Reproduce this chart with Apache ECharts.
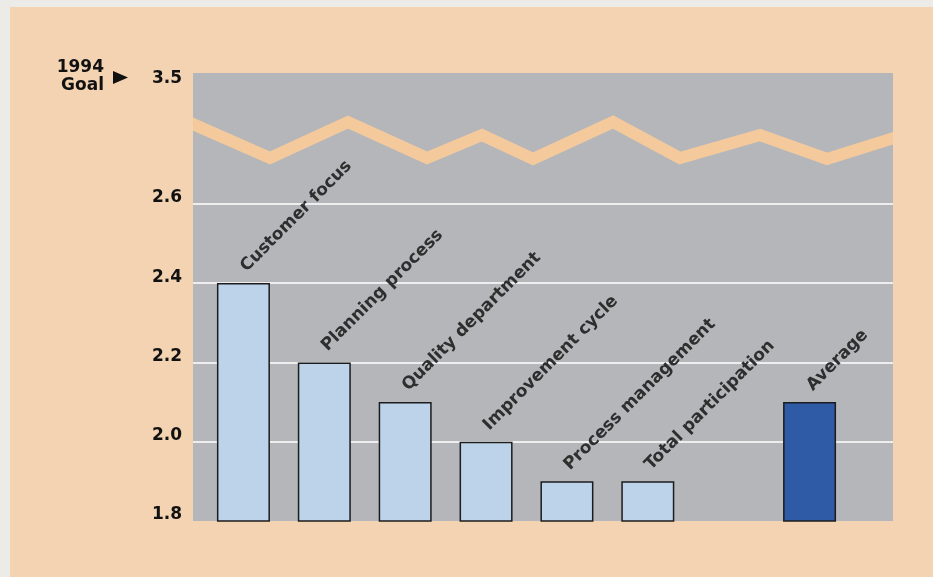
<!DOCTYPE html>
<html>
<head>
<meta charset="utf-8">
<script src="https://cdn.jsdelivr.net/npm/echarts@6/dist/echarts.min.js"></script>
<style>
html,body{margin:0;padding:0;background:#ecebe8;}
#chart{width:933px;height:577px;}
</style>
</head>
<body>
<div id="chart"></div>
<script>
// ---- data ----
var categories = ['Customer focus', 'Planning process', 'Quality department', 'Improvement cycle', 'Process management', 'Total participation', '', 'Average'];
var scores = [2.4, 2.2, 2.1, 2.0, 1.9, 1.9, null, 2.1];
// tick positions on the (broken) axis and the labels shown there; 3.5 sits above the break
var tickValues = [1.8, 2.0, 2.2, 2.4, 2.6, 2.9];
var tickLabels = ['1.8', '2.0', '2.2', '2.4', '2.6', '3.5'];
var gridLineValues = [2.0, 2.2, 2.4, 2.6];
var goalLabel = '1994\nGoal';

// ---- styles / layout ----
var PEACH = '#f4d3b2', BAND = '#f4c99c', GRAY = '#b5b6b9';
var LIGHT = '#bcd3ea', DARK = '#2f5aa6';
var plotTop = 73, plotBottom = 521, plotLeft = 193, plotRight = 893;
var yMin = 1.8, yMax = 2.93;
var pxPerUnit = (plotBottom - plotTop) / (yMax - yMin);
var gridTop2 = plotBottom - (gridLineValues[gridLineValues.length - 1] - yMin) * pxPerUnit;

var zig = [[186,121],[270,158],[348,122],[427,158],[482,135],[533,159],[613,122],[680,158],[760,135],[827,159],[900,136]];

var chart = echarts.init(document.getElementById('chart'), null, {renderer: 'canvas'});
var option = {
  backgroundColor: PEACH,
  animation: false,
  graphic: [
    {type: 'rect', z: -20, silent: true, shape: {x: 0, y: 0, width: 10, height: 577}, style: {fill: '#ecebe8'}},
    {type: 'rect', z: -20, silent: true, shape: {x: 0, y: 0, width: 933, height: 7}, style: {fill: '#ecebe8'}},
    {type: 'rect', z: -10, silent: true, shape: {x: plotLeft, y: plotTop, width: plotRight - plotLeft, height: plotBottom - plotTop}, style: {fill: GRAY}},
    {type: 'group', z: -5, silent: true,
      clipPath: {type: 'rect', shape: {x: plotLeft, y: plotTop, width: plotRight - plotLeft, height: plotBottom - plotTop}},
      children: [
        {type: 'polyline', shape: {points: zig}, style: {stroke: BAND, lineWidth: 12, lineJoin: 'miter', fill: null}}
      ]},
    {type: 'text', silent: true, style: {x: 104, y: 59, text: goalLabel, align: 'right', verticalAlign: 'top',
      font: 'bold 17px "DejaVu Sans"', fill: '#111', lineHeight: 18}},
    {type: 'polygon', silent: true, shape: {points: [[113,71],[128,77.5],[113,84]]}, style: {fill: '#111'}}
  ],
  grid: [
    {left: 203, width: 647, top: plotTop, height: plotBottom - plotTop, containLabel: false},
    {left: plotLeft, width: plotRight - plotLeft, top: gridTop2, height: plotBottom - gridTop2, containLabel: false}
  ],
  xAxis: [
    {gridIndex: 0, type: 'category', data: categories, show: false},
    {gridIndex: 1, type: 'value', min: 0, max: 1, show: false}
  ],
  yAxis: [
    {gridIndex: 0, type: 'value', min: yMin, max: yMax,
      axisLine: {show: false}, axisTick: {show: false}, splitLine: {show: false},
      axisLabel: {customValues: tickValues, margin: 21, color: '#111111', fontWeight: 'bold', fontSize: 17,
        fontFamily: 'DejaVu Sans', verticalAlign: 'bottom', lineHeight: 12,
        formatter: function (v) {
          for (var i = 0; i < tickValues.length; i++) { if (Math.abs(tickValues[i] - v) < 1e-6) return tickLabels[i]; }
          return '';
        }}},
    {gridIndex: 1, type: 'value', min: yMin, max: gridLineValues[gridLineValues.length - 1], interval: 0.2,
      axisLine: {show: false}, axisTick: {show: false}, axisLabel: {show: false},
      splitLine: {show: true, showMinLine: false, lineStyle: {color: '#eeeeee', width: 2}}}
  ],
  series: [{
    type: 'bar', xAxisIndex: 0, yAxisIndex: 0,
    data: scores,
    barWidth: 53,
    itemStyle: {
      borderColor: '#1c1c1c', borderWidth: 1.5,
      color: function (p) { return categories[p.dataIndex] === 'Average' ? DARK : LIGHT; }
    },
    label: {show: true, position: 'top', rotate: 45, align: 'left', verticalAlign: 'middle',
      distance: 14, offset: [0, 0], formatter: '{b}',
      color: '#2e2e2e', fontWeight: 'bold', fontSize: 17, fontFamily: 'DejaVu Sans'}
  }]
};
chart.setOption(option);
</script>
</body>
</html>
